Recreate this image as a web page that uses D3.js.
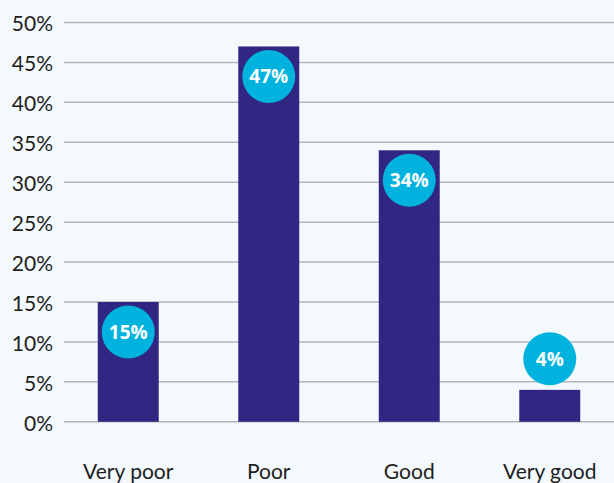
<!DOCTYPE html>
<html>
<head>
<meta charset="utf-8">
<script src="https://cdn.jsdelivr.net/npm/d3@7"></script>
<style>
  html, body { margin: 0; padding: 0; background: #f3f9fc; }
  svg { display: block; }
</style>
</head>
<body>
<svg id="chart" width="614" height="483"></svg>
<script>
// Survey ratings, share of respondents (%)
const categories = ["Very poor", "Poor", "Good", "Very good"];
const shares = [15, 47, 34, 4];
const tickValues = [0, 5, 10, 15, 20, 25, 30, 35, 40, 45, 50];

const W = 614, H = 483;
const svg = d3.select("#chart");
svg.append("rect").attr("width", W).attr("height", H).attr("fill", "#f3f9fc");

const y = d3.scaleLinear().domain([0, 50]).range([421.8, 22.5]);
const x = d3.scaleBand().domain(categories).range([58, 620])
  .paddingInner(0.566).paddingOuter(0.283);

// horizontal gridlines
svg.append("g").selectAll("line").data(tickValues).join("line")
  .attr("x1", 64).attr("x2", W)
  .attr("y1", d => y(d)).attr("y2", d => y(d))
  .attr("stroke", "#b4b6b8").attr("stroke-width", 1.5);

// y-axis labels
const yAxis = d3.axisLeft(y).tickValues(tickValues).tickFormat(d => d + "%").tickSize(0).tickPadding(0);
const ya = svg.append("g").attr("transform", "translate(53,0)").call(yAxis);
ya.select(".domain").remove();
ya.selectAll("text")
  .attr("font-family", "Lato, sans-serif").attr("font-size", 21)
  .attr("fill", "#1e1e1e").attr("dy", "0.4em");

// bars
svg.append("g").selectAll("rect").data(categories).join("rect")
  .attr("x", d => x(d)).attr("width", x.bandwidth())
  .attr("y", (d, i) => y(shares[i]))
  .attr("height", (d, i) => y(0) - y(shares[i]))
  .attr("fill", "#312783");

// value badges: inside the bar near the top, or above it when the bar is short
const R = 26.5;
const badgeY = v => (y(0) - y(v) > 2 * R + 10) ? y(v) + 30 : y(v) - 31;
const badges = svg.append("g").selectAll("g").data(categories).join("g")
  .attr("transform", (d, i) => `translate(${x(d) + x.bandwidth() / 2},${badgeY(shares[i])})`);
badges.append("circle").attr("r", R).attr("fill", "#00b3df");
badges.append("text")
  .attr("text-anchor", "middle").attr("dy", "0.36em")
  .attr("font-family", "'Open Sans', sans-serif").attr("font-weight", "bold")
  .attr("font-size", 19).attr("fill", "#ffffff")
  .text((d, i) => shares[i] + "%");

// category labels
const xAxis = d3.axisBottom(x).tickSize(0).tickPadding(0);
const xa = svg.append("g").attr("transform", "translate(0,471)").call(xAxis);
xa.select(".domain").remove();
xa.selectAll("text")
  .attr("font-family", "Lato, sans-serif").attr("font-size", 21)
  .attr("fill", "#1e1e1e").attr("dy", "0.36em");
</script>
</body>
</html>
